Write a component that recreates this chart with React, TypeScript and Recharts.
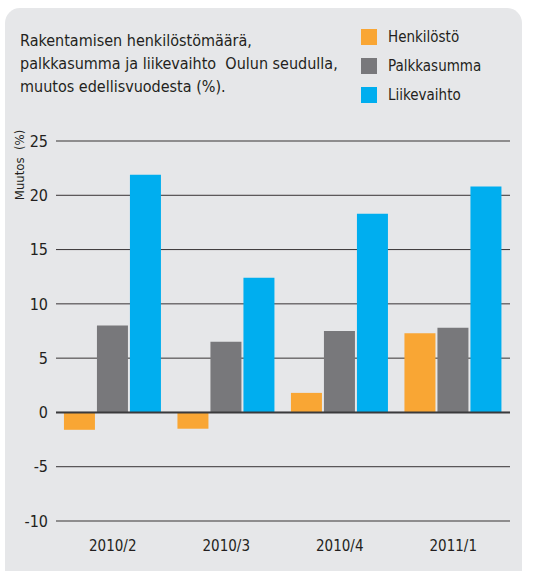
import { BarChart, Bar, XAxis, YAxis, CartesianGrid, ReferenceLine } from 'recharts';

const quarters = ['2010/2', '2010/3', '2010/4', '2011/1'];
const henkilosto = [-1.6, -1.5, 1.8, 7.3];
const palkkasumma = [8.0, 6.5, 7.5, 7.8];
const liikevaihto = [21.9, 12.4, 18.3, 20.8];
const yTicks = [-10, -5, 0, 5, 10, 15, 20, 25];

const series = [
  { key: 'henkilosto', name: 'Henkilöstö', color: '#F9A634' },
  { key: 'palkkasumma', name: 'Palkkasumma', color: '#78787B' },
  { key: 'liikevaihto', name: 'Liikevaihto', color: '#00AEEF' },
];

const data = quarters.map((q, i) => ({
  name: q,
  henkilosto: henkilosto[i],
  palkkasumma: palkkasumma[i],
  liikevaihto: liikevaihto[i],
}));

const font = '"Liberation Sans Narrow", "DejaVu Sans Condensed", "Liberation Sans", sans-serif';
const textColor = '#231F20';

function LegendBox() {
  return (
    <div style={{ position: 'absolute', left: 361, top: 22, fontFamily: font, fontSize: 15, color: textColor }}>
      {series.map((s) => (
        <div key={s.key} style={{ display: 'flex', alignItems: 'center', height: 29 }}>
          <span style={{ width: 16, height: 16, background: s.color, display: 'inline-block', marginRight: 11 }} />
          <span>{s.name}</span>
        </div>
      ))}
    </div>
  );
}

export default function App() {
  return (
    <div style={{ position: 'absolute', left: 0, top: 0, width: 540, height: 571, background: '#fff', overflow: 'hidden' }}>
      <div
        style={{
          position: 'absolute',
          left: 5,
          top: 8,
          width: 517,
          height: 580,
          background: '#E6E7E9',
          borderRadius: 15,
        }}
      />
      <div
        style={{
          position: 'absolute',
          left: 20,
          top: 29,
          fontFamily: font,
          fontSize: 16,
          lineHeight: '23px',
          color: textColor,
        }}
      >
        Rakentamisen henkilöstömäärä,
        <br />
        palkkasumma ja liikevaihto&nbsp; Oulun seudulla,
        <br />
        muutos edellisvuodesta (%).
      </div>
      <div
        style={{
          position: 'absolute',
          left: 19,
          top: 165,
          transform: 'translate(-50%, -50%) rotate(-90deg)',
          fontFamily: font,
          fontSize: 13,
          color: textColor,
          whiteSpace: 'pre',
        }}
      >
        {'Muutos  (%)'}
      </div>
      <LegendBox />
      <div style={{ position: 'absolute', left: 0, top: 0 }}>
        <BarChart
          width={540}
          height={571}
          data={data}
          margin={{ top: 141, right: 30, left: 0, bottom: 20 }}
          barGap={2}
          barCategoryGap="7%"
        >
          <CartesianGrid vertical={false} stroke="#231F20" strokeOpacity={0.9} />
          <XAxis
            dataKey="name"
            height={30}
            tickLine={false}
            axisLine={false}
            tickMargin={13}
            tick={{ fill: textColor, fontSize: 15, fontFamily: font }}
          />
          <YAxis
            width={56}
            domain={[-10, 25]}
            ticks={yTicks}
            interval={0}
            tickLine={false}
            axisLine={false}
            tick={{ fill: textColor, fontSize: 16, fontFamily: font }}
          />
          {series.map((s) => (
            <Bar key={s.key} dataKey={s.key} name={s.name} fill={s.color} isAnimationActive={false} />
          ))}
          <ReferenceLine y={0} stroke="#3A3A3C" strokeWidth={2} />
        </BarChart>
      </div>
    </div>
  );
}
